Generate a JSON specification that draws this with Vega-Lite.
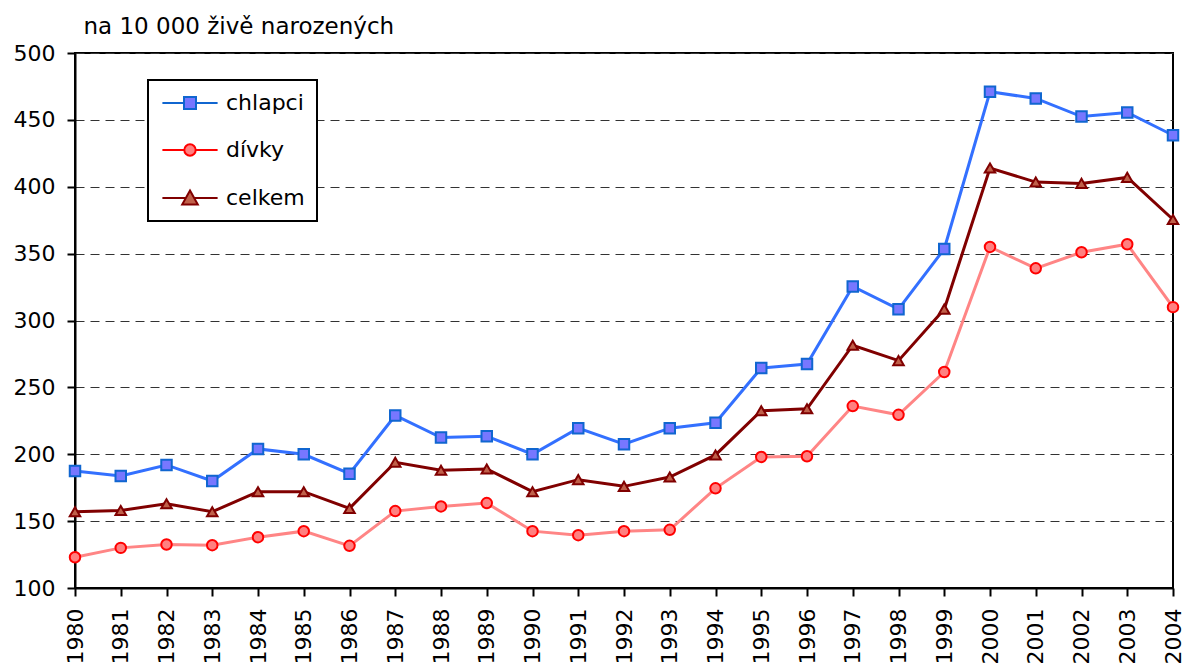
{
  "$schema": "https://vega.github.io/schema/vega-lite/v6.json",
  "width": 1098,
  "height": 535,
  "autosize": {"type": "none"},
  "padding": {"left": 75, "top": 53, "right": 13, "bottom": 79},
  "background": "white",
  "config": {
    "font": "DejaVu Sans",
    "view": {"stroke": "black", "strokeWidth": 2},
    "legend": {"strokeWidth": 2},
    "axis": {
      "labelFont": "DejaVu Sans",
      "labelFontSize": 22,
      "labelColor": "black",
      "domainColor": "black",
      "domainWidth": 2,
      "tickColor": "black",
      "tickWidth": 2,
      "tickSize": 8,
      "labelPadding": 12
    }
  },
  "data": {
    "values": [
      {"year": 1980, "series": "chlapci", "value": 187.5},
      {"year": 1981, "series": "chlapci", "value": 183.7},
      {"year": 1982, "series": "chlapci", "value": 192},
      {"year": 1983, "series": "chlapci", "value": 180},
      {"year": 1984, "series": "chlapci", "value": 204},
      {"year": 1985, "series": "chlapci", "value": 200},
      {"year": 1986, "series": "chlapci", "value": 185.5},
      {"year": 1987, "series": "chlapci", "value": 229},
      {"year": 1988, "series": "chlapci", "value": 212.5},
      {"year": 1989, "series": "chlapci", "value": 213.5},
      {"year": 1990, "series": "chlapci", "value": 200},
      {"year": 1991, "series": "chlapci", "value": 219.5},
      {"year": 1992, "series": "chlapci", "value": 207.5},
      {"year": 1993, "series": "chlapci", "value": 219.5},
      {"year": 1994, "series": "chlapci", "value": 223.5},
      {"year": 1995, "series": "chlapci", "value": 264.5},
      {"year": 1996, "series": "chlapci", "value": 267.5},
      {"year": 1997, "series": "chlapci", "value": 325.5},
      {"year": 1998, "series": "chlapci", "value": 308.5},
      {"year": 1999, "series": "chlapci", "value": 353.5},
      {"year": 2000, "series": "chlapci", "value": 471},
      {"year": 2001, "series": "chlapci", "value": 466},
      {"year": 2002, "series": "chlapci", "value": 452.5},
      {"year": 2003, "series": "chlapci", "value": 455.5},
      {"year": 2004, "series": "chlapci", "value": 438.5},
      {"year": 1980, "series": "dívky", "value": 123},
      {"year": 1981, "series": "dívky", "value": 130},
      {"year": 1982, "series": "dívky", "value": 132.5},
      {"year": 1983, "series": "dívky", "value": 132},
      {"year": 1984, "series": "dívky", "value": 138},
      {"year": 1985, "series": "dívky", "value": 142.5},
      {"year": 1986, "series": "dívky", "value": 131.5},
      {"year": 1987, "series": "dívky", "value": 157.5},
      {"year": 1988, "series": "dívky", "value": 161},
      {"year": 1989, "series": "dívky", "value": 163.5},
      {"year": 1990, "series": "dívky", "value": 142.5},
      {"year": 1991, "series": "dívky", "value": 139.5},
      {"year": 1992, "series": "dívky", "value": 142.5},
      {"year": 1993, "series": "dívky", "value": 143.5},
      {"year": 1994, "series": "dívky", "value": 174.5},
      {"year": 1995, "series": "dívky", "value": 198},
      {"year": 1996, "series": "dívky", "value": 198.5},
      {"year": 1997, "series": "dívky", "value": 236},
      {"year": 1998, "series": "dívky", "value": 229.5},
      {"year": 1999, "series": "dívky", "value": 261.5},
      {"year": 2000, "series": "dívky", "value": 355},
      {"year": 2001, "series": "dívky", "value": 339},
      {"year": 2002, "series": "dívky", "value": 351},
      {"year": 2003, "series": "dívky", "value": 357},
      {"year": 2004, "series": "dívky", "value": 310},
      {"year": 1980, "series": "celkem", "value": 157},
      {"year": 1981, "series": "celkem", "value": 158},
      {"year": 1982, "series": "celkem", "value": 163},
      {"year": 1983, "series": "celkem", "value": 157},
      {"year": 1984, "series": "celkem", "value": 172},
      {"year": 1985, "series": "celkem", "value": 172},
      {"year": 1986, "series": "celkem", "value": 159.5},
      {"year": 1987, "series": "celkem", "value": 194},
      {"year": 1988, "series": "celkem", "value": 188},
      {"year": 1989, "series": "celkem", "value": 189},
      {"year": 1990, "series": "celkem", "value": 172},
      {"year": 1991, "series": "celkem", "value": 181},
      {"year": 1992, "series": "celkem", "value": 176},
      {"year": 1993, "series": "celkem", "value": 183},
      {"year": 1994, "series": "celkem", "value": 199.5},
      {"year": 1995, "series": "celkem", "value": 232.5},
      {"year": 1996, "series": "celkem", "value": 234},
      {"year": 1997, "series": "celkem", "value": 281.5},
      {"year": 1998, "series": "celkem", "value": 270},
      {"year": 1999, "series": "celkem", "value": 308.5},
      {"year": 2000, "series": "celkem", "value": 414},
      {"year": 2001, "series": "celkem", "value": 403.5},
      {"year": 2002, "series": "celkem", "value": 402.5},
      {"year": 2003, "series": "celkem", "value": 407},
      {"year": 2004, "series": "celkem", "value": 375.5}
    ]
  },
  "encoding": {
    "x": {
      "field": "year",
      "type": "quantitative",
      "scale": {"domain": [1980, 2004], "nice": false, "zero": false},
      "axis": {
        "values": [1980, 1981, 1982, 1983, 1984, 1985, 1986, 1987, 1988, 1989, 1990, 1991, 1992, 1993, 1994, 1995, 1996, 1997, 1998, 1999, 2000, 2001, 2002, 2003, 2004],
        "format": "d",
        "labelAngle": -90,
        "title": null,
        "grid": false,
        "labelFlush": false,
        "labelOverlap": false
      }
    },
    "y": {
      "field": "value",
      "type": "quantitative",
      "scale": {"domain": [100, 500], "nice": false, "zero": false},
      "axis": {
        "values": [100, 150, 200, 250, 300, 350, 400, 450, 500],
        "grid": true,
        "gridDash": [9, 6],
        "gridColor": "#333333",
        "gridWidth": 1,
        "labelFlush": false,
        "labelOverlap": false,
        "title": "na 10 000 živě narozených",
        "titleAngle": 0,
        "titleAlign": "left",
        "titleBaseline": "alphabetic",
        "titleX": 8,
        "titleY": -20,
        "titleFont": "DejaVu Sans",
        "titleFontSize": 23,
        "titleFontWeight": "normal",
        "titleColor": "black"
      }
    }
  },
  "resolve": {"scale": {"shape": "independent", "fill": "independent", "stroke": "independent"}},
  "layer": [
    {
      "mark": {"type": "line", "strokeWidth": 3},
      "encoding": {
        "color": {
          "field": "series",
          "type": "nominal",
          "scale": {"domain": ["chlapci", "dívky", "celkem"], "range": ["#3370FF", "#FF8585", "#800000"]},
          "legend": null
        }
      }
    },
    {
      "mark": {"type": "point", "filled": true, "strokeWidth": 2, "opacity": 1},
      "encoding": {
        "shape": {
          "field": "series",
          "type": "nominal",
          "scale": {"domain": ["chlapci", "dívky", "celkem"], "range": ["square", "circle", "triangle-up"]},
          "legend": null
        },
        "fill": {
          "field": "series",
          "type": "nominal",
          "scale": {"domain": ["chlapci", "dívky", "celkem"], "range": ["#7777FF", "#FF8080", "#C0604A"]},
          "legend": null
        },
        "stroke": {
          "field": "series",
          "type": "nominal",
          "scale": {"domain": ["chlapci", "dívky", "celkem"], "range": ["#1066D0", "#FF0000", "#800000"]},
          "legend": null
        },
        "size": {
          "field": "series",
          "type": "nominal",
          "scale": {"domain": ["chlapci", "dívky", "celkem"], "range": [110, 110, 220]},
          "legend": null
        }
      }
    },
    {
      "transform": [{"filter": "false"}],
      "mark": {"type": "point", "filled": true, "strokeWidth": 2, "opacity": 1},
      "encoding": {
        "fill": {
          "field": "series",
          "type": "nominal",
          "scale": {"domain": ["chlapci", "dívky", "celkem"], "range": ["#7777FF", "#FF8080", "#C0604A"]},
          "legend": {
            "orient": "none",
            "legendX": 73,
            "legendY": 27,
            "title": null,
            "labelFont": "DejaVu Sans",
            "labelFontSize": 22,
            "labelColor": "black",
            "strokeColor": "black",
            "fillColor": "white",
            "padding": 12,
            "rowPadding": 25,
            "symbolSize": 144,
            "symbolOffset": 19,
            "labelOffset": 25,
            "symbolStrokeWidth": 2,
            "symbolOpacity": 1
          }
        },
        "stroke": {
          "field": "series",
          "type": "nominal",
          "scale": {"domain": ["chlapci", "dívky", "celkem"], "range": ["#1066D0", "#FF0000", "#800000"]}
        },
        "shape": {
          "field": "series",
          "type": "nominal",
          "scale": {
            "domain": ["chlapci", "dívky", "celkem"],
            "range": [
              "M-4.6,0L-1,0M1,0L4.6,0M-1,-1L1,-1L1,1L-1,1Z",
              "M-4.6,0L-0.95,0M0.95,0L4.6,0M0.95,0A0.95,0.95,0,1,1,-0.95,0A0.95,0.95,0,1,1,0.95,0Z",
              "M-4.6,0L-0.65,0M0.65,0L4.6,0M0,-1.25L1.3,1.1L-1.3,1.1Z"
            ]
          }
        }
      }
    }
  ]
}
